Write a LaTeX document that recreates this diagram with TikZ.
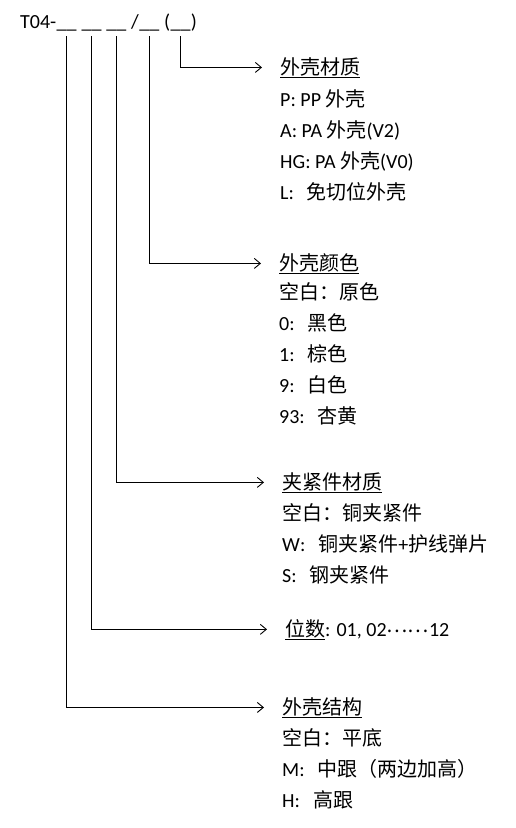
\documentclass[tikz,border=0pt]{standalone}
\usepackage{fontspec}
\setmainfont{Carlito}
\newfontfamily\cjk{Noto Sans CJK SC}
\usetikzlibrary{positioning,arrows.meta}
\newcommand{\zh}[1]{{\cjk #1}}
\newcommand{\gp}{\hspace{13pt}}

\begin{document}
\begin{tikzpicture}[x=1pt,y=1pt,
		txt/.style={inner sep=0pt,font=\fontsize{20}{31}\selectfont},
		blank/.style={txt,outer ysep=5.5pt},
		head/.style={txt,anchor=base west},
		items/.style={txt,anchor=base west,align=left},
		link/.style={-{Straight Barb[length=6pt,width=10pt]},line width=0.9pt,shorten >=18pt}]
		\useasboundingbox (0,0) rectangle (515,-828);

		% part number with its five blanks
		\node[txt,anchor=base west]		(t)		at (20,-28)	{T04-};
		\node[blank,base right=0pt of t]		(b1)	{\_\_};
		\node[blank,base right=4.5pt of b1]		(b2)	{\_\_};
		\node[blank,base right=4.5pt of b2]		(b3)	{\_\_};
		\node[txt,base right=4.5pt of b3]		(sl)	{/};
		\node[blank,base right=0pt of sl]		(b4)	{\_\_};
		\node[txt,base right=4.5pt of b4]		(lp)	{(};
		\node[blank,base right=0pt of lp]		(b5)	{\_\_};
		\node[txt,base right=0pt of b5]			(rp)	{)};

		% legends (the item lists sit on their last baseline)
		\node[head]		(caizhi)	at (280,-74)	{\underline{\zh{外壳材质}}};
		\node[items]	(caizhi-l)	at (280,-199)	{P: PP \zh{外壳}\\A: PA \zh{外壳}(V2)\\HG: PA \zh{外壳}(V0)\\L:\gp\zh{免切位外壳}};

		\node[head]		(yanse)		at (279,-270)	{\underline{\zh{外壳颜色}}};
		\node[items]	(yanse-l)	at (279,-423)	{\zh{空白：原色}\\0:\gp\zh{黑色}\\1:\gp\zh{棕色}\\9:\gp\zh{白色}\\93:\gp\zh{杏黄}};

		\node[head]		(jiajin)	at (282,-489)	{\underline{\zh{夹紧件材质}}};
		\node[items]	(jiajin-l)	at (282,-582)	{\zh{空白：铜夹紧件}\\W:\gp\zh{铜夹紧件}+\zh{护线弹片}\\S:\gp\zh{钢夹紧件}};

		\node[head]		(weishu)	at (285,-636)	{\underline{\zh{位数}}: 01, 02\raisebox{4pt}{\zh{……}}12};

		\node[head]		(jiegou)	at (282,-714)	{\underline{\zh{外壳结构}}};
		\node[items]	(jiegou-l)	at (282,-807)	{\zh{空白：平底}\\M:\gp\zh{中跟（两边加高）}\\H:\gp\zh{高跟}};

		\draw[link] (b5.south) |- (caizhi.west);
		\draw[link] (b4.south) |- (yanse.west);
		\draw[link] (b3.south) |- (jiajin.west);
		\draw[link] (b2.south) |- (weishu.west);
		\draw[link] (b1.south) |- (jiegou.west);
	\end{tikzpicture}
\end{document}
